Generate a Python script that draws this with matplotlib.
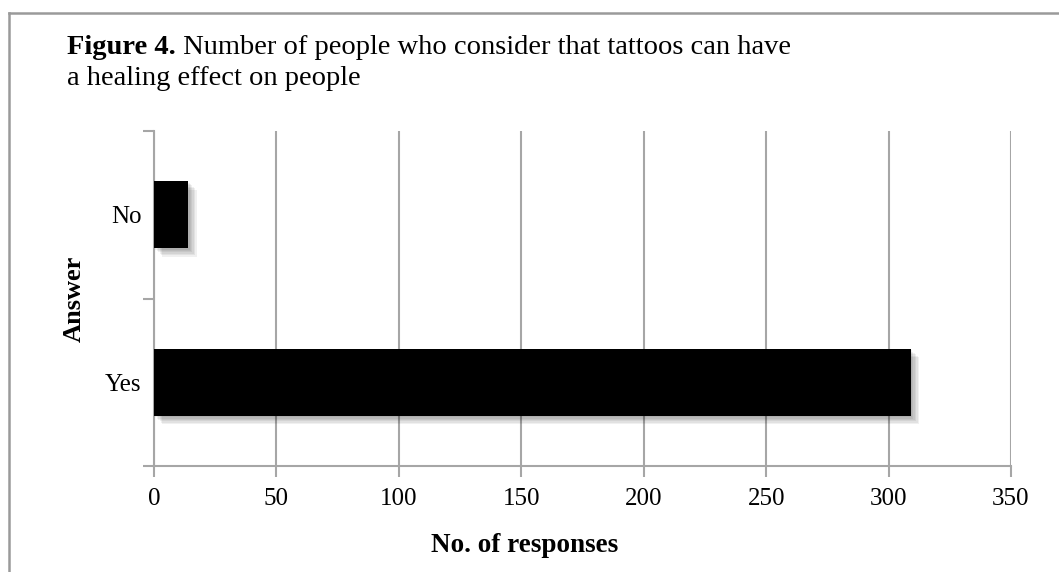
import matplotlib
matplotlib.use("Agg")
import matplotlib.pyplot as plt
from matplotlib import patheffects as pe
from matplotlib.lines import Line2D

categories = ["Yes", "No"]
values = [309, 14]
x_ticks = [0, 50, 100, 150, 200, 250, 300, 350]
title_bold = "Figure 4."
title_rest = " Number of people who consider that tattoos can have"
title_line2 = "a healing effect on people"
x_label = "No. of responses"
y_label = "Answer"

W, H = 1059, 572
fig = plt.figure(figsize=(W / 100, H / 100), dpi=100)
plt.rcParams['font.family'] = ['Liberation Serif', 'DejaVu Serif']

grid_c = "#a6a6a6"
ax = fig.add_axes([154 / W, (H - 466) / H, (1011 - 154) / W, (466 - 131) / H])

shadow = [pe.SimplePatchShadow(offset=(o, -o), shadow_rgbFace="#000000", alpha=0.06)
          for o in (1, 2, 3, 4, 5, 6)] + [pe.Normal()]
bars = ax.barh(categories, values, height=0.4, color="black", zorder=3)
for b in bars:
    b.set_path_effects(shadow)

ax.set_xlim(0, 350)
ax.set_ylim(-0.5, 1.5)
ax.set_xticks(x_ticks)
ax.set_xticklabels([str(t) for t in x_ticks])
ax.set_yticks([-0.5, 0.5, 1.5], minor=False)
ax.set_yticklabels(["", "", ""])
ax.set_yticks([0, 1], minor=True)
ax.set_yticklabels(categories, minor=True)
ax.tick_params(axis="y", which="minor", length=0, labelsize=18, pad=9)
ax.tick_params(axis="y", which="major", length=8, width=1.5, color=grid_c)
ax.tick_params(axis="x", length=8, width=1.5, color=grid_c, labelsize=18, pad=8)

ax.grid(axis="x", color=grid_c, linewidth=1.5, zorder=0)
ax.set_axisbelow(True)
for s in ("top", "right"):
    ax.spines[s].set_visible(False)
for s in ("left", "bottom"):
    ax.spines[s].set_color(grid_c)
    ax.spines[s].set_linewidth(1.5)

# x label centred on the chart area (as in the reference)
fig.text(525 / W, 1 - 546 / H, x_label, fontsize=19.5, fontweight="bold", ha="center", va="center")
ax.set_ylabel(y_label, fontsize=19, fontweight="bold", labelpad=14)

# title
fs_t = 20.5
t1 = fig.text(67 / W, 1 - 54 / H, title_bold, fontsize=fs_t, fontweight="bold", va="baseline", ha="left")
fig.canvas.draw()
bb = t1.get_window_extent()
fig.text(bb.x1 / W, 1 - 54 / H, title_rest, fontsize=fs_t, va="baseline", ha="left")
fig.text(67 / W, 1 - 85 / H, title_line2, fontsize=fs_t, va="baseline", ha="left")

# outer border
bc = "#9a9a9a"
fig.add_artist(Line2D([9 / W, 1.01], [1 - 13 / H, 1 - 13 / H], transform=fig.transFigure, color=bc, lw=1.8))
fig.add_artist(Line2D([9 / W, 9 / W], [-0.01, 1 - 13 / H], transform=fig.transFigure, color=bc, lw=1.8))

fig.savefig("out.png", dpi=100)
